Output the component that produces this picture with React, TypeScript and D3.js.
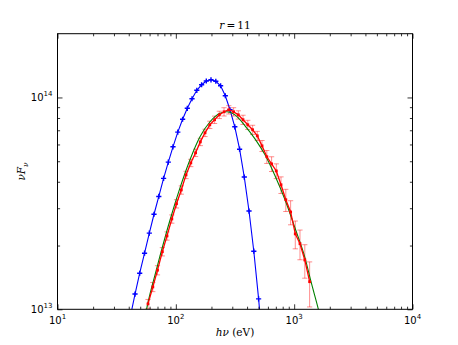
import React, { useRef, useEffect } from "react";
import * as d3 from "d3";

// blue model spectrum (h nu in eV, nuF_nu)
const blueE = [41.2, 45.2, 49.5, 54.4, 59.7, 65.4, 71.8, 78.8, 86.4, 94.6, 103.9, 114.1, 125.0, 137.0, 150.4, 165.1, 180.9, 198.2, 217.7, 239.0, 261.9, 286.9, 315.0, 345.8, 378.9, 415.4, 456.0, 500.6, 549.5];
const blueF = [9.2e12, 1.18e13, 1.48e13, 1.84e13, 2.29e13, 2.81e13, 3.41e13, 4.15e13, 4.95e13, 5.85e13, 6.86e13, 7.89e13, 8.89e13, 9.86e13, 1.081e14, 1.148e14, 1.196e14, 1.212e14, 1.193e14, 1.136e14, 1.019e14, 8.75e13, 7.27e13, 5.7e13, 4.21e13, 2.91e13, 1.88e13, 1.12e13, 6.2e12];

// red data with relative errors
const redE = [58.2, 63.9, 70.0, 76.9, 84.2, 92.5, 101.3, 111.2, 121.9, 133.8, 146.9, 161.0, 176.4, 193.6, 212.6, 233.0, 255.4, 280.4, 307.7, 337.3, 369.5, 405.6, 445.5, 488.0, 534.9, 587.4, 644.7, 706.3, 774.2, 850.1, 933.2, 1022, 1120, 1230, 1351];
const redF = [1.06e13, 1.275e13, 1.53e13, 1.87e13, 2.22e13, 2.67e13, 3.15e13, 3.66e13, 4.31e13, 4.91e13, 5.48e13, 6.17e13, 6.81e13, 7.43e13, 7.85e13, 8.28e13, 8.56e13, 8.75e13, 8.56e13, 8.28e13, 7.85e13, 7.43e13, 7.04e13, 6.59e13, 5.91e13, 5.25e13, 4.86e13, 4.5e13, 3.87e13, 3.29e13, 2.88e13, 2.27e13, 2.04e13, 1.71e13, 1.35e13];
const redErr = [0.05, 0.05, 0.05, 0.045, 0.045, 0.045, 0.045, 0.045, 0.04, 0.04, 0.04, 0.04, 0.04, 0.04, 0.04, 0.04, 0.045, 0.045, 0.045, 0.045, 0.05, 0.05, 0.05, 0.05, 0.06, 0.07, 0.08, 0.08, 0.09, 0.12, 0.13, 0.15, 0.16, 0.18, 0.24];

// green fit curve
const fitE = [53.8, 56.5, 60.5, 66.7, 73.5, 89.3, 108.4, 131.7, 160.0, 194.5, 236.2, 270.6, 316.2, 384.2, 466.7, 567.1, 688.9, 836.9, 1016.5, 1235, 1388, 1600, 1686];
const fitF = [8.8e12, 9.98e12, 1.181e13, 1.453e13, 1.786e13, 2.64e13, 3.74e13, 5.08e13, 6.52e13, 7.68e13, 8.42e13, 8.56e13, 8.28e13, 7.35e13, 6.38e13, 5.36e13, 4.27e13, 3.29e13, 2.42e13, 1.75e13, 1.35e13, 1.003e13, 8.9e12];

const xMajor = [10, 100, 1000, 10000];
const xExp = ["1", "2", "3", "4"];
const yMajor = [1e13, 1e14];
const yExp = ["13", "14"];
const xMinor = [2, 3, 4, 5, 6, 7, 8, 9].flatMap((m) => [m * 10, m * 100, m * 1000]);
const yMinor = [2, 3, 4, 5, 6, 7, 8, 9].map((m) => m * 1e13);

export default function App() {
   const svgRef = useRef<SVGSVGElement>(null);

   useEffect(() => {
      const W = 458;
      const H = 345;
      const left = 57.5, right = 412.5, top = 33.7, bottom = 309.3;

      const svg = d3.select(svgRef.current);
      svg.selectAll("*").remove();
      svg.attr("width", W).attr("height", H).style("background", "#fff");

      const x = d3.scaleLog().domain([10, 1e4]).range([left, right]);
      const y = d3.scaleLog().domain([1e13, 2e14]).range([bottom, top]);

      svg.append("defs").append("clipPath").attr("id", "plotclip")
         .append("rect").attr("x", left).attr("y", top)
         .attr("width", right - left).attr("height", bottom - top);

      const plot = svg.append("g").attr("clip-path", "url(#plotclip)");

      // blue curve
      const line = d3.line<number>().x((d, i) => 0).y(() => 0);
      const blueLine = d3.line<[number, number]>().x((d) => x(d[0])).y((d) => y(d[1]));
      const bluePts = blueE.map((e, i) => [e, blueF[i]] as [number, number]);
      plot.append("path").attr("d", blueLine(bluePts)).attr("fill", "none")
         .attr("stroke", "#0000ff").attr("stroke-width", 1.1);
      plot.selectAll(".bm").data(bluePts).join("path")
         .attr("d", (d) => {
            const cx = x(d[0]), cy = y(d[1]);
            return `M${cx - 2.6},${cy}H${cx + 2.6}M${cx},${cy - 2.6}V${cy + 2.6}`;
         })
         .attr("stroke", "#0000ff").attr("stroke-width", 1.4);

      // red error bars
      const redPts = redE.map((e, i) => [e, redF[i], redErr[i]]);
      const eb = plot.append("g").attr("stroke", "#ff0000").attr("stroke-opacity", 0.45).attr("stroke-width", 1);
      redPts.forEach((d) => {
         const cx = x(d[0]);
         const y0 = y(d[1] * (1 - d[2]));
         const y1 = y(d[1] * (1 + d[2]));
         eb.append("line").attr("x1", cx).attr("x2", cx).attr("y1", y0).attr("y2", y1);
         eb.append("line").attr("x1", cx - 2.6).attr("x2", cx + 2.6).attr("y1", y0).attr("y2", y0);
         eb.append("line").attr("x1", cx - 2.6).attr("x2", cx + 2.6).attr("y1", y1).attr("y2", y1);
      });

      // green fit
      const fitLine = d3.line<[number, number]>().x((d) => x(d[0])).y((d) => y(d[1])).curve(d3.curveMonotoneX);
      plot.append("path").attr("d", fitLine(fitE.map((e, i) => [e, fitF[i]] as [number, number])))
         .attr("fill", "none").attr("stroke", "#008000").attr("stroke-width", 1.1);

      // red data line + markers
      plot.append("path").attr("d", blueLine(redPts.map((d) => [d[0], d[1]] as [number, number])))
         .attr("fill", "none").attr("stroke", "#ff0000").attr("stroke-width", 1.3);
      plot.selectAll(".rm").data(redPts).join("rect")
         .attr("x", (d) => x(d[0]) - 1.4).attr("y", (d) => y(d[1]) - 1.4)
         .attr("width", 2.8).attr("height", 2.8).attr("fill", "#ff0000");

      // ticks (inside, all four sides)
      const addAxis = (axis: any, tr: string) => {
         const g = svg.append("g").attr("transform", tr).call(axis);
         g.select(".domain").remove();
         g.selectAll("text").remove();
         g.selectAll("line").attr("stroke", "#000").attr("stroke-width", 0.8);
      };
      addAxis(d3.axisBottom(x).tickValues(xMajor).tickSize(-5), `translate(0,${bottom})`);
      addAxis(d3.axisBottom(x).tickValues(xMinor).tickSize(-2.6), `translate(0,${bottom})`);
      addAxis(d3.axisTop(x).tickValues(xMajor).tickSize(-5), `translate(0,${top})`);
      addAxis(d3.axisTop(x).tickValues(xMinor).tickSize(-2.6), `translate(0,${top})`);
      addAxis(d3.axisLeft(y).tickValues(yMajor).tickSize(-5), `translate(${left},0)`);
      addAxis(d3.axisLeft(y).tickValues(yMinor).tickSize(-2.6), `translate(${left},0)`);
      addAxis(d3.axisRight(y).tickValues(yMajor).tickSize(-5), `translate(${right},0)`);
      addAxis(d3.axisRight(y).tickValues(yMinor).tickSize(-2.6), `translate(${right},0)`);

      // frame
      svg.append("rect").attr("x", left).attr("y", top)
         .attr("width", right - left).attr("height", bottom - top)
         .attr("fill", "none").attr("stroke", "#000").attr("stroke-width", 1);

      // tick labels
      const sans = "'DejaVu Sans', sans-serif";
      xMajor.forEach((v, i) => {
         const t = svg.append("text").attr("x", x(v)).attr("y", bottom + 15)
            .attr("text-anchor", "middle").attr("font-family", sans).attr("font-size", 10).attr("fill", "#000");
         t.append("tspan").text("10");
         t.append("tspan").attr("dy", -5).attr("font-size", 7).text(xExp[i]);
      });
      yMajor.forEach((v, i) => {
         const t = svg.append("text").attr("x", left - 5).attr("y", y(v) + 4)
            .attr("text-anchor", "end").attr("font-family", sans).attr("font-size", 10).attr("fill", "#000");
         t.append("tspan").text("10");
         t.append("tspan").attr("dy", -5).attr("font-size", 7).text(yExp[i]);
      });

      // title and axis labels
      const serif = "'DejaVu Serif', serif";
      const title = svg.append("text").attr("x", (left + right) / 2).attr("y", 29)
         .attr("text-anchor", "middle").attr("font-family", serif).attr("font-size", 10.5);
      title.append("tspan").attr("font-style", "italic").text("r");
      title.append("tspan").text("\u2009=\u200911");

      const xl = svg.append("text").attr("x", (left + right) / 2).attr("y", 336)
         .attr("text-anchor", "middle").attr("font-family", serif).attr("font-size", 10.5);
      xl.append("tspan").attr("font-style", "italic").text("h\u03bd");
      xl.append("tspan").text(" (eV)");

      const yl = svg.append("text").attr("transform", `translate(25,${(top + bottom) / 2}) rotate(-90)`)
         .attr("text-anchor", "middle").attr("font-family", serif).attr("font-size", 10.5)
         .attr("font-style", "italic");
      yl.append("tspan").text("\u03bdF");
      yl.append("tspan").attr("dy", 2.5).attr("font-size", 7.5).text("\u03bd");
   }, []);

   return (
      <div style={{ position: "absolute", left: 0, top: 0 }}>
         <svg ref={svgRef}></svg>
      </div>
   );
}
